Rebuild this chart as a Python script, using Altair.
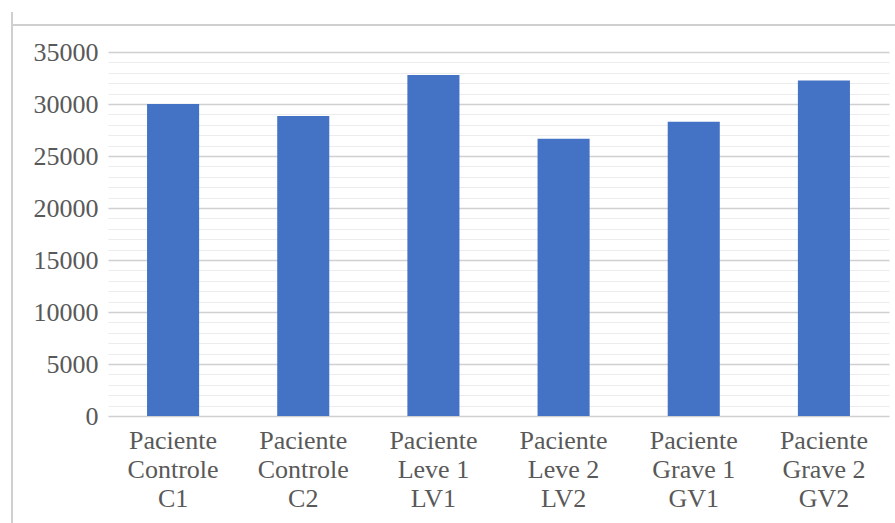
import altair as alt
import pandas as pd

# Patient groups (label lines separated by "\n") and the measured values
categories = [
    "Paciente\nControle\nC1",
    "Paciente\nControle\nC2",
    "Paciente\nLeve 1\nLV1",
    "Paciente\nLeve 2\nLV2",
    "Paciente\nGrave 1\nGV1",
    "Paciente\nGrave 2\nGV2",
]
values = [30000, 28850, 32800, 26650, 28300, 32250]

# Gridline positions: every 1000, labelled every 5000
grid_values = list(range(0, 35001, 1000))

df = pd.DataFrame({"grupo": categories, "valor": values})

FONT = "Liberation Serif"
TEXT = "#595959"

bars = alt.Chart(df).mark_bar(color="#4472C4").encode(
    x=alt.X(
        "grupo:N",
        sort=None,
        title=None,
        scale=alt.Scale(paddingInner=0.6, paddingOuter=0.3),
        axis=alt.Axis(
            labelAngle=0,
            labelExpr="split(datum.label, '\\n')",
            labelFont=FONT,
            labelFontSize=26,
            labelColor=TEXT,
            labelLineHeight=29,
            labelBaseline="top",
            labelPadding=11,
            ticks=False,
            domain=False,
            grid=False,
        ),
    ),
    y=alt.Y(
        "valor:Q",
        title=None,
        scale=alt.Scale(domain=[0, 35000], nice=False),
        axis=alt.Axis(
            values=grid_values,
            labelExpr="datum.value % 5000 === 0 ? datum.label : ''",
            format="d",
            labelFont=FONT,
            labelFontSize=26,
            labelColor=TEXT,
            labelPadding=10,
            ticks=False,
            domain=False,
            gridColor={
                "condition": {"test": "datum.value % 5000 === 0", "value": "#d0d0d0"},
                "value": "#ececec",
            },
            gridWidth={
                "condition": {"test": "datum.value % 5000 === 0", "value": 1.6},
                "value": 1.2,
            },
        ),
    ),
)

# Light frame lines along the top and left edges
frame_top = alt.Chart(df).mark_rule(color="#cfcfcf", strokeWidth=2).encode(
    x=alt.value(-96), x2=alt.value(790), y=alt.value(-27)
)
frame_left = alt.Chart(df).mark_rule(color="#cfcfcf", strokeWidth=2).encode(
    x=alt.value(-96), y=alt.value(-40), y2=alt.value(475)
)

chart = (
    alt.layer(bars, frame_top, frame_left)
    .properties(
        width=781,
        height=364,
        autosize=alt.AutoSizeParams(type="none"),
        padding={"left": 108, "top": 52, "right": 6, "bottom": 107},
        background="white",
    )
    .configure_view(stroke=None)
)

chart.save("out.html", embed_options={"renderer": "svg", "actions": False})
